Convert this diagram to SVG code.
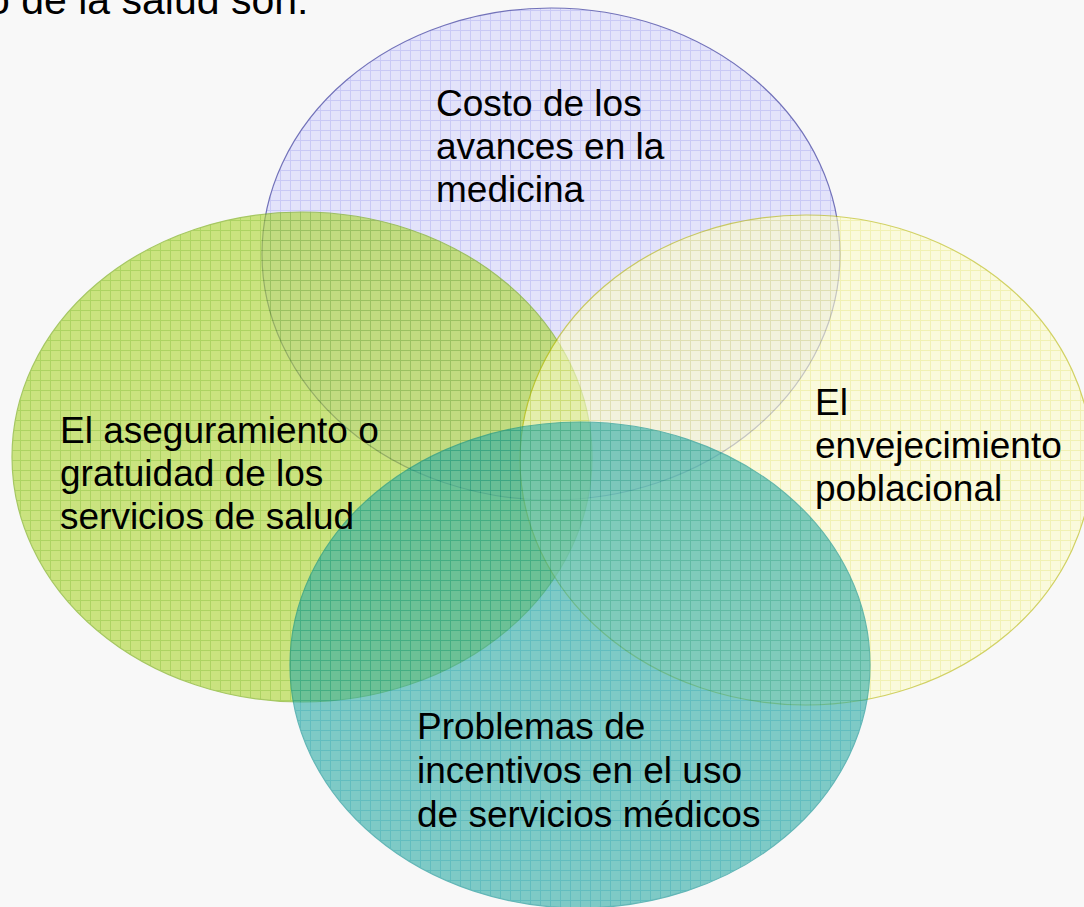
<svg xmlns="http://www.w3.org/2000/svg" width="1084" height="907" viewBox="0 0 1084 907">
<defs>
<pattern id="pBlue" width="10" height="10" patternUnits="userSpaceOnUse">
<rect width="10" height="10" fill="#d6d6fc"/>
<path d="M0 0.5H10M0.5 0V10" stroke="#aaaaf4" stroke-width="1" fill="none"/>
</pattern>
<pattern id="pGreen" width="10" height="10" patternUnits="userSpaceOnUse">
<rect width="10" height="10" fill="#acd630"/>
<path d="M0 0.5H10M0.5 0V10" stroke="#7cbc00" stroke-width="1" fill="none"/>
</pattern>
<pattern id="pYellow" width="10" height="10" patternUnits="userSpaceOnUse">
<rect width="10" height="10" fill="#fcfcca"/>
<path d="M0 0.5H10M0.5 0V10" stroke="#eeee88" stroke-width="1" fill="none"/>
</pattern>
<pattern id="pTeal" width="10" height="10" patternUnits="userSpaceOnUse">
<rect width="10" height="10" fill="#2eaca6"/>
<path d="M0 0.5H10M0.5 0V10" stroke="#00969a" stroke-width="1" fill="none"/>
</pattern>
</defs>
<style>
.lbl{font-family:"Liberation Sans",Arial,sans-serif;font-size:37px;fill:#000}
.title{font-family:"Liberation Sans",Arial,sans-serif;font-size:41px;fill:#000}
.ell{opacity:0.6;stroke-width:1.2}
</style>
<rect width="1084" height="907" fill="#f8f8f8"/>
<text class="title" x="-13" y="14">o de la salud son:</text>
<g id="costo">
<ellipse class="ell" cx="551" cy="254" rx="289" ry="246" fill="url(#pBlue)" stroke="#1a1a90"/>
</g>
<g id="aseguramiento">
<ellipse class="ell" cx="302" cy="457" rx="290" ry="245" fill="url(#pGreen)" stroke="#70a800"/>
</g>
<g id="envejecimiento">
<ellipse class="ell" cx="806" cy="460" rx="286" ry="245" fill="url(#pYellow)" stroke="#b8b800"/>
</g>
<g id="problemas">
<ellipse class="ell" cx="580" cy="665" rx="290" ry="243" fill="url(#pTeal)" stroke="#008c8c"/>
</g>
<g id="connectors"></g>
<g id="labels">
<text class="lbl" x="436" y="116">Costo de los</text>
<text class="lbl" x="436" y="159">avances en la</text>
<text class="lbl" x="436" y="202">medicina</text>
<text class="lbl" x="60" y="443">El aseguramiento o</text>
<text class="lbl" x="60" y="486">gratuidad de los</text>
<text class="lbl" x="60" y="529">servicios de salud</text>
<text class="lbl" x="815" y="415">El</text>
<text class="lbl" x="815" y="458">envejecimiento</text>
<text class="lbl" x="815" y="501">poblacional</text>
<text class="lbl" x="417" y="739">Problemas de</text>
<text class="lbl" x="417" y="783">incentivos en el uso</text>
<text class="lbl" x="417" y="827">de servicios médicos</text>
</g>
</svg>
